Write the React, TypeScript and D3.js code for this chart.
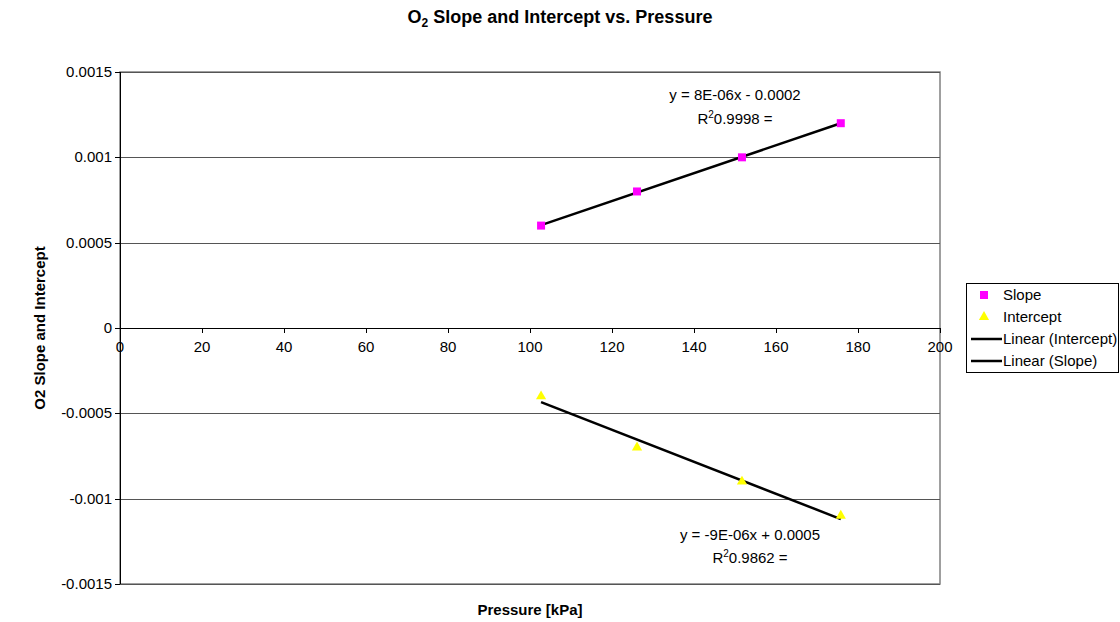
import * as d3 from "d3";

const pressure = [102.7, 126.1, 151.7, 175.8];
const slopeValues = [0.0006, 0.0008, 0.001, 0.0012];
const interceptValues = [-0.0004, -0.0007, -0.0009, -0.0011];
const xTicks = [0, 20, 40, 60, 80, 100, 120, 140, 160, 180, 200];
const yTicks = [0.0015, 0.001, 0.0005, 0, -0.0005, -0.001, -0.0015];
const slopeEq = ["y = 8E-06x - 0.0002", "0.9998 ="];
const interceptEq = ["y = -9E-06x + 0.0005", "0.9862 ="];
const legendItems = ["Slope", "Intercept", "Linear (Intercept)", "Linear (Slope)"];

const W = 1120;
const H = 622;
const font = "'Liberation Sans', Arial, sans-serif";

function fit(xs: number[], ys: number[]) {
  const mx = d3.mean(xs) as number;
  const my = d3.mean(ys) as number;
  const num = d3.sum(xs, (x, i) => (x - mx) * (ys[i] - my));
  const den = d3.sum(xs, (x) => (x - mx) ** 2);
  const m = num / den;
  return { m, b: my - m * mx };
}

export default function App() {
  const left = 120;
  const right = 940;
  const top = 72;
  const bottom = 584;

  const x = d3.scaleLinear().domain([0, 200]).range([left, right]);
  const y = d3.scaleLinear().domain([-0.0015, 0.0015]).range([bottom, top]);

  const x0 = d3.min(pressure) as number;
  const x1 = d3.max(pressure) as number;
  const sFit = fit(pressure, slopeValues);
  const iFit = fit(pressure, interceptValues);
  const tri = d3.symbol().type(d3.symbolTriangle).size(45)() as string;

  const fmtY = (v: number) => (v === 0 ? "0" : String(v));
  const fs = 15;

  return (
    <svg width={W} height={H} style={{ position: "absolute", left: 0, top: 0, fontFamily: font }}>
      <rect width={W} height={H} fill="#fff" />
      <text x={560} y={23} textAnchor="middle" fontSize={18} fontWeight="bold">
        O<tspan fontSize={12} dy={4}>2</tspan>
        <tspan dy={-4}> Slope and Intercept vs. Pressure</tspan>
      </text>

      {/* plot frame */}
      <rect x={left} y={top} width={right - left} height={bottom - top} fill="none" stroke="#808080" strokeWidth={1.5} />

      {/* gridlines */}
      {yTicks.map((t) => (
        <line key={"g" + t} x1={left} x2={right} y1={Math.round(y(t)) + 0.5} y2={Math.round(y(t)) + 0.5} stroke="#555" strokeWidth={1} />
      ))}

      {/* y axis */}
      <line x1={left + 0.5} x2={left + 0.5} y1={top} y2={bottom} stroke="#000" />
      {yTicks.map((t) => (
        <g key={"y" + t}>
          <line x1={left - 5} x2={left} y1={Math.round(y(t)) + 0.5} y2={Math.round(y(t)) + 0.5} stroke="#000" />
          <text x={left - 8} y={y(t) + 5} textAnchor="end" fontSize={fs} fill="#000">
            {fmtY(t)}
          </text>
        </g>
      ))}

      {/* x axis at y=0 */}
      <line x1={left} x2={right} y1={Math.round(y(0)) + 0.5} y2={Math.round(y(0)) + 0.5} stroke="#000" />
      {xTicks.map((t) => (
        <g key={"x" + t}>
          <line x1={Math.round(x(t)) + 0.5} x2={Math.round(x(t)) + 0.5} y1={y(0)} y2={y(0) + 5} stroke="#000" />
          <text x={x(t)} y={y(0) + 24} textAnchor="middle" fontSize={fs} fill="#000">
            {t}
          </text>
        </g>
      ))}

      {/* trendlines */}
      <line x1={x(x0)} y1={y(sFit.m * x0 + sFit.b)} x2={x(x1)} y2={y(sFit.m * x1 + sFit.b)} stroke="#000" strokeWidth={2.5} />
      <line x1={x(x0)} y1={y(iFit.m * x0 + iFit.b)} x2={x(x1)} y2={y(iFit.m * x1 + iFit.b)} stroke="#000" strokeWidth={2.5} />

      {/* markers */}
      {pressure.map((p, i) => (
        <rect key={"s" + i} x={x(p) - 4} y={y(slopeValues[i]) - 4} width={8} height={8} fill="#ff00ff" />
      ))}
      {pressure.map((p, i) => (
        <path key={"t" + i} d={tri} transform={`translate(${x(p)},${y(interceptValues[i])})`} fill="#ffff00" />
      ))}

      {/* equations */}
      <text x={735} y={100} textAnchor="middle" fontSize={fs}>{slopeEq[0]}</text>
      <text x={735} y={124} textAnchor="middle" fontSize={fs}>
        R<tspan fontSize={10} dy={-6}>2</tspan>
        <tspan dy={6}>{slopeEq[1]}</tspan>
      </text>
      <text x={750} y={540} textAnchor="middle" fontSize={fs}>{interceptEq[0]}</text>
      <text x={750} y={563} textAnchor="middle" fontSize={fs}>
        R<tspan fontSize={10} dy={-6}>2</tspan>
        <tspan dy={6}>{interceptEq[1]}</tspan>
      </text>

      {/* axis titles */}
      <text x={530} y={615} textAnchor="middle" fontSize={fs} fontWeight="bold">Pressure [kPa]</text>
      <text transform={`translate(45,${(top + bottom) / 2}) rotate(-90)`} textAnchor="middle" fontSize={fs} fontWeight="bold">
        O2 Slope and Intercept
      </text>

      {/* legend */}
      <rect x={966.5} y={283.5} width={152} height={89} fill="#fff" stroke="#000" />
      {legendItems.map((label, i) => {
        const cy = 295 + i * 22;
        return (
          <g key={label}>
            {i === 0 && <rect x={980} y={cy - 4} width={8} height={8} fill="#ff00ff" />}
            {i === 1 && <path d={tri} transform={`translate(984,${cy})`} fill="#ffff00" />}
            {i >= 2 && <line x1={971} x2={1002} y1={cy} y2={cy} stroke="#000" strokeWidth={2.5} />}
            <text x={1003} y={cy + 5} fontSize={fs}>{label}</text>
          </g>
        );
      })}
    </svg>
  );
}
